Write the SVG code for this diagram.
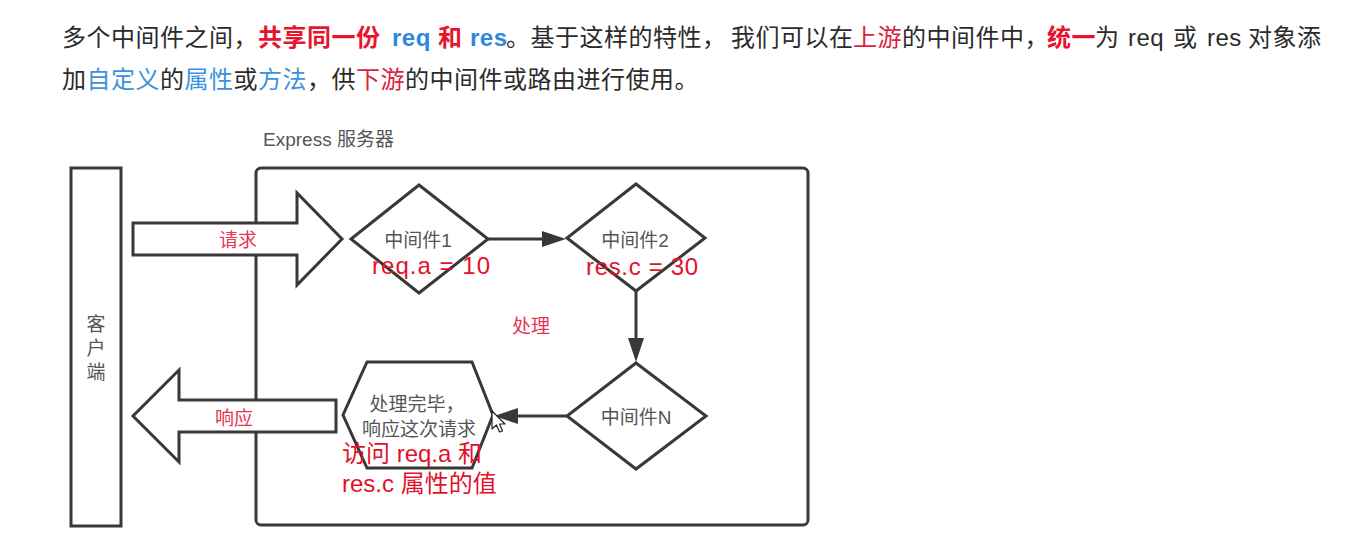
<svg xmlns="http://www.w3.org/2000/svg" width="1367" height="540" viewBox="0 0 1367 540">
<style>
  .hdr{font-family:"Liberation Sans","Noto Sans CJK SC",sans-serif;font-size:24px;fill:#2b2b2b;letter-spacing:0.5px}
  .bred{fill:#e8132d;font-weight:bold}
  .bblue{fill:#2d87dc;font-weight:bold}
  .blue{fill:#3a93dc}
  .red{fill:#d9223e}
  .shape{fill:#fff;stroke:#383838;stroke-width:3;stroke-linejoin:miter}
  .lbl{font-family:"Liberation Sans","Noto Sans CJK SC",sans-serif;font-size:19px;fill:#555;text-anchor:middle}
  .rlbl{font-family:"Liberation Sans","Noto Sans CJK SC",sans-serif;font-size:19px;fill:#e8344f;text-anchor:middle}
  .note{font-family:"Liberation Sans","Noto Sans CJK SC",sans-serif;font-size:24px;fill:#e3102c}
  .conn{stroke:#383838;stroke-width:3;fill:none}
</style>
<defs>
  <marker id="ah" markerUnits="userSpaceOnUse" markerWidth="24" markerHeight="16" refX="0" refY="8" orient="auto">
    <path d="M0,0 L24,8 L0,16 z" fill="#383838"/>
  </marker>
</defs>
<rect width="1367" height="540" fill="#fff"/>

<g id="header">
  <text class="hdr" y="46">
    <tspan x="62">多个中间件之间，</tspan><tspan x="258" class="bred">共享同一份</tspan><tspan x="392" class="bblue">req</tspan><tspan x="438" class="bred">和</tspan><tspan x="470" class="bblue">res</tspan><tspan x="506">。基于这样的特性，</tspan><tspan x="731">我们可以在</tspan><tspan x="853" class="red">上游</tspan><tspan x="902">的中间件中，</tspan><tspan x="1047" class="bred">统一</tspan><tspan x="1095">为</tspan><tspan x="1128">req</tspan><tspan x="1173">或</tspan><tspan x="1207">res</tspan><tspan x="1248">对象添</tspan>
  </text>
  <text class="hdr" x="62" y="88">加<tspan class="blue">自定义</tspan>的<tspan class="blue">属性</tspan>或<tspan class="blue">方法</tspan>，供<tspan class="red">下游</tspan>的中间件或路由进行使用。</text>
</g>

<g id="express-server">
  <rect class="shape" x="256" y="168" width="552" height="357" rx="5"/>
  <text class="lbl" x="263" y="146" style="text-anchor:start">Express 服务器</text>
  <text class="rlbl" x="531" y="333">处理</text>
</g>

<g id="client">
  <rect class="shape" x="71" y="168" width="50" height="358"/>
  <text class="lbl" x="96" y="331">客</text>
  <text class="lbl" x="96" y="355">户</text>
  <text class="lbl" x="96" y="379">端</text>
</g>

<g id="request-arrow">
  <polygon class="shape" points="133,223 297,223 297,193 342,239 297,285 297,255 133,255"/>
  <text class="rlbl" x="238" y="247">请求</text>
</g>

<g id="response-arrow">
  <polygon class="shape" points="336,400 179,400 179,370 133,416 179,462 179,432 336,432"/>
  <text class="rlbl" x="234" y="425">响应</text>
</g>

<g id="connectors">
  <line class="conn" x1="488" y1="239" x2="542" y2="239" marker-end="url(#ah)"/>
  <line class="conn" x1="636" y1="291" x2="636" y2="338" marker-end="url(#ah)"/>
  <line class="conn" x1="567" y1="416" x2="518" y2="416" marker-end="url(#ah)"/>
</g>

<g id="middleware1">
  <polygon class="shape" points="419,185 488,239 419,293 351,239"/>
  <text class="lbl" x="418" y="247">中间件1</text>
  <text class="note" x="372" y="274" textLength="118" lengthAdjust="spacing">req.a = 10</text>
</g>

<g id="middleware2">
  <polygon class="shape" points="636,184 705,238 636,291 567,238"/>
  <text class="lbl" x="635" y="247">中间件2</text>
  <text class="note" x="586" y="275" textLength="112" lengthAdjust="spacing">res.c = 30</text>
</g>

<g id="middlewareN">
  <polygon class="shape" points="636,363 706,416 636,469 567,416"/>
  <text class="lbl" x="636" y="424">中间件N</text>
</g>

<g id="finish">
  <polygon class="shape" points="367,362 472,362 493,415 472,468 367,468 343,415"/>
  <text class="lbl" x="417" y="411">处理完毕，</text>
  <text class="lbl" x="419" y="436">响应这次请求</text>
  <text class="note" x="342" y="462">访问 req.a 和</text>
  <text class="note" x="342" y="492">res.c 属性的值</text>
</g>

<g id="cursor" transform="translate(492,411)">
  <polygon points="0,0 0,18 4.5,14 7.5,21 10.5,20 7.5,13 13,13" fill="#fff" stroke="#222" stroke-width="1.2" stroke-linejoin="round"/>
</g>
</svg>
